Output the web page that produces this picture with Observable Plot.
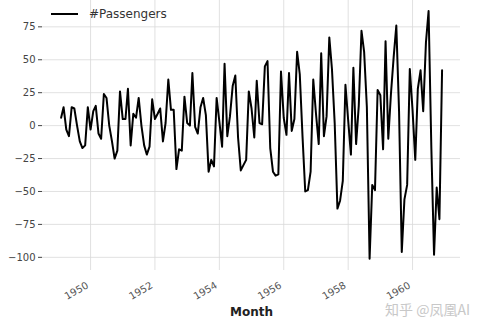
<!DOCTYPE html>
<html><head><meta charset="utf-8">
<script src="https://cdn.jsdelivr.net/npm/d3@7"></script>
<script src="https://cdn.jsdelivr.net/npm/@observablehq/plot@0.6"></script>
<style>
body{margin:0;background:#fff;}
#wrap{position:relative;width:488px;height:331px;font-family:"DejaVu Sans",sans-serif;}
#legend{position:absolute;left:51px;top:7px;font-size:12px;color:#333;display:flex;align-items:center;z-index:2;}
#legend span.sw{display:inline-block;width:27px;height:2px;background:#000;margin-right:11px;}
#wm{position:absolute;left:385px;top:299px;font-family:"Noto Sans CJK SC",sans-serif;font-size:14px;color:#c8c8c8;z-index:2;}
</style></head>
<body><div id="wrap"><div id="legend"><span class="sw"></span>#Passengers</div><div id="wm">知乎 @凤凰AI</div></div>
<script>
const seriesName = "#Passengers";
const startYear = 1949, startMonth = 2;
const passengersDiff = [
 6,14,-3,-8,14,13,0,-12,-17,-15,14,
 -3,11,15,-6,-10,24,21,0,-12,-25,-19,26,
 5,5,28,-15,9,6,21,0,-15,-22,-16,20,
 5,9,13,-12,2,35,12,12,-33,-18,-19,22,
 2,0,40,-1,-6,14,21,8,-35,-26,-31,21,
 3,-16,47,-8,7,30,38,-9,-34,-30,-26,26,
 13,-9,34,2,1,45,49,-17,-35,-38,-37,41,
 6,-7,40,-4,5,56,39,-8,-50,-49,-35,35,
 9,-14,55,-8,7,67,43,2,-63,-57,-42,31,
 4,-22,44,-14,15,72,56,14,-101,-45,-49,27,
 23,-18,64,-10,24,52,76,11,-96,-56,-45,43,
 12,-26,28,42,11,63,87,-16,-98,-47,-71,42
];
const yTicks = [-100,-75,-50,-25,0,25,50,75];
const xTickYears = [1950,1952,1954,1956,1958,1960];
const xLabel = "Month";

const data = passengersDiff.map((v,i)=>({date:new Date(startYear, startMonth-1+i, 1), value:v}));
const xTickDates = xTickYears.map(y=>new Date(y,0,1));

const chart = Plot.plot({
  width:488, height:331,
  marginLeft:42, marginRight:28, marginTop:0, marginBottom:61,
  style:{fontFamily:"DejaVu Sans, sans-serif", fontSize:"10px", color:"#444", background:"transparent"},
  x:{type:"time", domain:[new Date(1948,6,5), new Date(1961,5,28)], label:null},
  y:{domain:[-110,95], label:null},
  marks:[
    Plot.gridX(xTickDates, {stroke:"#d9d9d9", strokeOpacity:1, strokeWidth:0.8}),
    Plot.gridY(yTicks, {stroke:"#d9d9d9", strokeOpacity:1, strokeWidth:0.8}),
    Plot.axisX(xTickDates, {tickFormat:d3.timeFormat("%Y"), tickRotate:-30, tickSize:0, tickPadding:8, dy:6, dx:-3, label:null, fill:"#555"}),
    Plot.axisY(yTicks, {tickSize:4, tickPadding:3, label:null, tickFormat:d=>d<0?"\u2212"+Math.abs(d):String(d), fill:"#444"}),
    Plot.lineY(data, {x:"date", y:"value", stroke:"#000", strokeWidth:2}),
    Plot.text([xLabel], {frameAnchor:"bottom", dy:45, text:d=>d, fontWeight:"bold", fontSize:12, fill:"#222"})
  ]
});
document.getElementById("wrap").prepend(chart);
chart.style.position="absolute"; chart.style.left="0"; chart.style.top="0";
</script></body></html>
